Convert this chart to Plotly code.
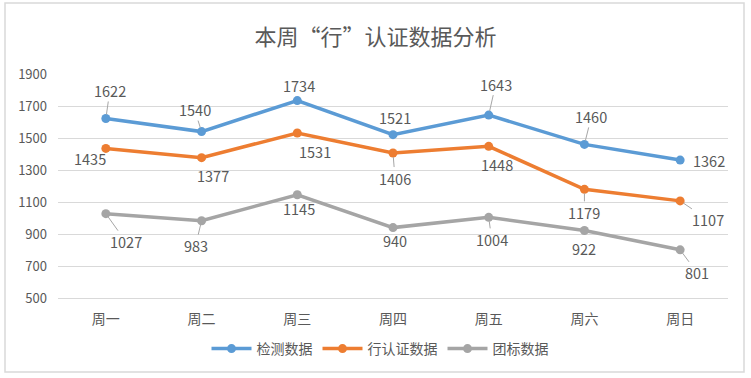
import plotly.graph_objects as go

categories = ["周一", "周二", "周三", "周四", "周五", "周六", "周日"]
series_names = ["检测数据", "行认证数据", "团标数据"]
jiance = [1622, 1540, 1734, 1521, 1643, 1460, 1362]
xingrenzheng = [1435, 1377, 1531, 1406, 1448, 1179, 1107]
tuanbiao = [1027, 983, 1145, 940, 1004, 922, 801]
y_ticks = [500, 700, 900, 1100, 1300, 1500, 1700, 1900]

colors = ["#5B9BD5", "#ED7D31", "#A5A5A5"]
all_series = [jiance, xingrenzheng, tuanbiao]

# label offsets (pixels) and whether a leader line is shown
label_offsets = [
    [(4, -28, True), (-7, -22, True), (2, -15, False), (2, -17, False), (7, -31, True), (7, -28, True), (29, 0, False)],
    [(-16, 10, False), (11, 18, False), (18, 18, False), (2, 25, True), (8, 18, False), (0, 23, True), (28, 19, True)],
    [(20, 28, True), (-6, 25, True), (2, 14, False), (2, 13, False), (3, 22, True), (0, 18, False), (17, 23, True)],
]

FONT = "Noto Sans CJK SC"
TXT = "#595959"
LABEL_SIZE = 14.5

fig = go.Figure()
for name, vals, col in zip(series_names, all_series, colors):
    fig.add_trace(go.Scatter(
        x=categories, y=vals, name=name, mode="lines+markers",
        line=dict(color=col, width=3.5),
        marker=dict(color=col, size=9),
    ))

annotations = []
for vals, offs in zip(all_series, label_offsets):
    for cat, v, (dx, dy, lead) in zip(categories, vals, offs):
        if lead:
            annotations.append(dict(
                x=cat, y=v, text=str(v), showarrow=True, ax=dx, ay=dy,
                arrowhead=0, arrowwidth=1, arrowcolor="#A6A6A6", standoff=4,
                borderpad=0,
                font=dict(family=FONT, size=LABEL_SIZE, color=TXT),
            ))
        else:
            annotations.append(dict(
                x=cat, y=v, text=str(v), showarrow=False, xshift=dx, yshift=-dy,
                font=dict(family=FONT, size=LABEL_SIZE, color=TXT),
            ))

fig.update_layout(
    width=751, height=378,
    margin=dict(l=58, r=23, t=74, b=80, autoexpand=False),
    paper_bgcolor="white", plot_bgcolor="white",
    font=dict(family=FONT, size=13, color=TXT),
    title=dict(text="本周“行”认证数据分析", x=0.5, xref="container", xanchor="center",
               y=1 - 37 / 378, yref="container", yanchor="middle",
               font=dict(family=FONT, size=22, color=TXT)),
    showlegend=True,
    legend=dict(orientation="h", xref="container", yref="container",
                x=0.506, xanchor="center", y=1 - 349 / 378, yanchor="middle",
                font=dict(family=FONT, size=14, color=TXT), itemwidth=40,
                traceorder="normal"),
    annotations=annotations,
    shapes=[dict(type="rect", xref="paper", yref="paper",
                 x0=(5 - 58) / 670, x1=(744 - 58) / 670,
                 y0=(298 - 372) / 224, y1=(298 - 3) / 224,
                 line=dict(color="#D9D9D9", width=1.5), fillcolor="rgba(0,0,0,0)", layer="below")],
)
fig.update_xaxes(
    type="category", range=[-0.5, 6.5], showgrid=False, showline=True,
    linecolor="#D9D9D9", linewidth=1, ticks="", ticklabelstandoff=8,
    tickfont=dict(family=FONT, size=14, color=TXT), zeroline=False,
)
fig.update_yaxes(
    range=[500, 1900], tickvals=y_ticks, showgrid=True, gridcolor="#D9D9D9",
    gridwidth=1, showline=False, zeroline=False, ticks="", ticklabelstandoff=10,
    tickfont=dict(family=FONT, size=13, color=TXT),
)

fig.write_html(
    "out.html",
    config={"displayModeBar": False},
    post_script="document.body.style.margin='0';document.body.style.overflow='hidden';",
)
